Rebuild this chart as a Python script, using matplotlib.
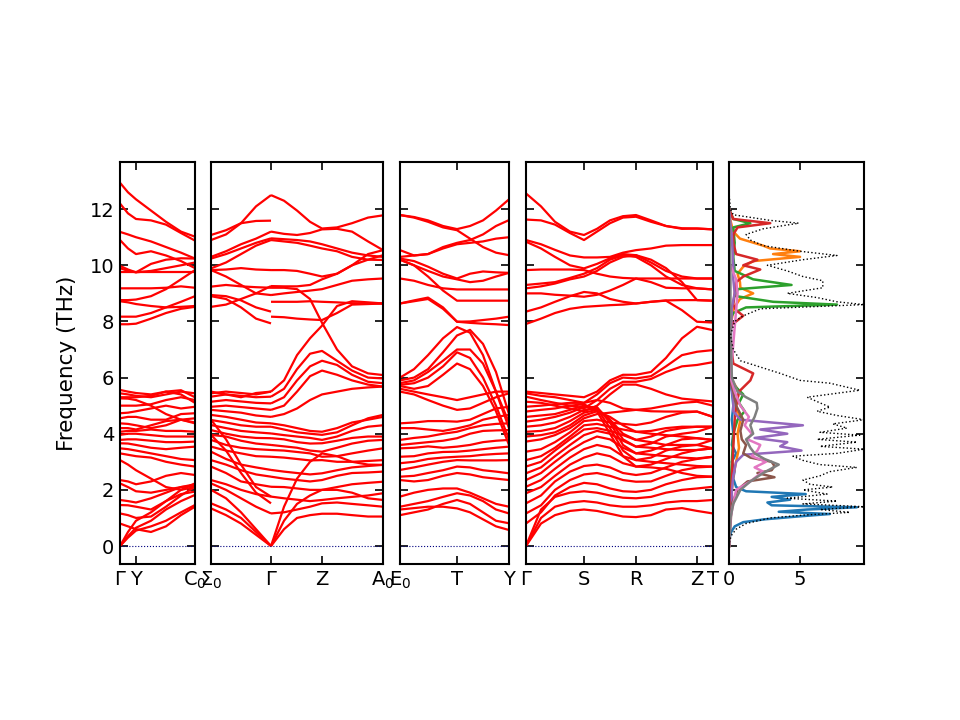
import matplotlib
matplotlib.use("Agg")
import matplotlib.pyplot as plt
import numpy as np

# ---------------- band data ----------------
p1_x = [0, 8, 16, 31, 46, 61, 75]
p1_ticks = [0, 16, 75]
p1_labels = ["Γ", "Y", "C$_0$"]
p1_bands = [
    [12.94, 12.6, 12.35, 11.95, 11.55, 11.2, 11.02],
    [12.2, 11.85, 11.65, 11.6, 11.45, 11.15, 10.88],
    [11.19, 11.1, 11.0, 10.85, 10.65, 10.45, 10.24],
    [10.9, 10.6, 10.4, 10.5, 10.35, 10.15, 9.9],
    [9.98, 9.85, 9.75, 10.05, 10.2, 10.25, 10.24],
    [9.9, 9.8, 9.75, 9.8, 9.9, 10.0, 10.1],
    [9.77, 9.77, 9.77, 9.77, 9.77, 9.77, 9.77],
    [9.18, 9.18, 9.18, 9.18, 9.2, 9.25, 9.2],
    [8.76, 8.76, 8.78, 8.9, 9.15, 9.5, 9.83],
    [8.72, 8.68, 8.62, 8.55, 8.5, 8.52, 8.55],
    [8.17, 8.17, 8.17, 8.3, 8.5, 8.7, 8.9],
    [7.9, 7.9, 7.92, 8.1, 8.3, 8.45, 8.52],
    [0, 0.3, 0.55, 0.7, 0.9, 1.2, 1.46],
    [0, 0.35, 0.65, 0.9, 1.3, 1.6, 1.82],
    [0, 0.5, 0.9, 1.2, 1.6, 1.85, 1.94],
    [0.8, 0.7, 0.6, 0.5, 0.7, 1.1, 1.4],
    [1.16, 1.1, 1.0, 1.05, 1.4, 1.8, 2.11],
    [1.46, 1.45, 1.4, 1.3, 1.6, 2.0, 2.23],
    [1.64, 1.6, 1.55, 1.7, 1.9, 2.1, 2.2],
    [2.23, 2.1, 1.95, 1.9, 2.0, 2.1, 2.15],
    [2.35, 2.3, 2.2, 2.3, 2.5, 2.6, 2.53],
    [3.06, 2.9, 2.7, 2.4, 2.1, 2.0, 2.1],
    [3.3, 3.25, 3.2, 3.15, 3.0, 2.9, 2.83],
    [3.48, 3.45, 3.4, 3.3, 3.2, 3.1, 3.06],
    [3.66, 3.65, 3.6, 3.5, 3.45, 3.5, 3.54],
    [3.78, 3.8, 3.8, 3.75, 3.7, 3.7, 3.72],
    [3.96, 4.0, 4.0, 3.95, 3.9, 3.9, 3.9],
    [4.07, 4.1, 4.1, 4.15, 4.1, 4.1, 4.07],
    [4.2, 4.2, 4.15, 4.3, 4.45, 4.5, 4.37],
    [4.37, 4.35, 4.3, 4.2, 4.3, 4.5, 4.55],
    [4.55, 4.6, 4.6, 4.5, 4.5, 4.7, 4.73],
    [4.73, 4.75, 4.8, 4.9, 5.0, 4.9, 4.96],
    [5.0, 5.0, 5.0, 5.05, 5.2, 5.3, 5.2],
    [5.26, 5.25, 5.2, 5.0, 4.7, 4.5, 4.4],
    [5.44, 5.4, 5.35, 5.3, 5.4, 5.5, 5.44],
    [5.56, 5.5, 5.45, 5.4, 5.5, 5.55, 5.3],
    [5.3, 5.3, 5.3, 5.35, 5.5, 5.4, 5.1],
]

p2a_x = [0, 15, 30, 45, 60]
p2b_x = [60, 73, 86, 99, 111, 126, 141, 157, 172]
p2_ticks = [0, 60, 111, 172]
p2_labels = ["Σ$_0$", "Γ", "Z", "A$_0$"]
p2a_bands = [
    [11.08, 11.25, 11.5, 11.58, 11.59],
    [10.9, 11.1, 11.5, 12.1, 12.5],
    [10.3, 10.5, 10.75, 10.95, 11.2],
    [10.24, 10.4, 10.6, 10.8, 10.96],
    [9.89, 10.1, 10.4, 10.7, 10.9],
    [9.83, 9.85, 9.9, 9.85, 9.83],
    [9.83, 9.6, 9.3, 9.0, 8.94],
    [9.24, 9.3, 9.25, 9.22, 9.2],
    [8.94, 8.9, 8.75, 8.5, 8.35],
    [8.52, 8.6, 8.8, 9.0, 9.26],
    [8.9, 8.8, 8.5, 8.1, 7.93],
    [1.34, 1.1, 0.8, 0.4, 0],
    [1.52, 1.3, 1.0, 0.5, 0],
    [2.0, 1.7, 1.2, 0.6, 0],
    [2.23, 2.0, 1.7, 1.4, 1.16],
    [2.35, 2.2, 2.0, 1.85, 1.76],
    [2.83, 2.6, 2.3, 2.2, 2.11],
    [3.06, 2.9, 2.7, 2.55, 2.47],
    [3.36, 3.1, 2.9, 2.8, 2.71],
    [3.54, 3.4, 3.3, 3.2, 3.18],
    [3.78, 3.6, 3.5, 3.45, 3.42],
    [3.96, 3.9, 3.75, 3.65, 3.6],
    [4.13, 4.0, 3.9, 3.85, 3.84],
    [4.31, 4.2, 4.1, 4.05, 4.01],
    [4.49, 4.4, 4.3, 4.25, 4.25],
    [4.67, 4.6, 4.5, 4.4, 4.37],
    [4.85, 4.8, 4.75, 4.65, 4.6],
    [4.96, 5.0, 4.95, 4.9, 4.85],
    [5.14, 5.2, 5.15, 5.1, 5.08],
    [5.32, 5.4, 5.35, 5.3, 5.32],
    [5.44, 5.5, 5.45, 5.4, 5.5],
    [5.5, 5.4, 5.3, 5.45, 5.5],
    [4.5, 3.8, 2.9, 2.1, 1.76],
    [3.96, 3.4, 2.6, 1.9, 1.52],
]
p2b_bands = [
    [12.5, 12.3, 11.95, 11.55, 11.31, 11.35, 11.5, 11.7, 11.78],
    [11.2, 11.12, 11.08, 11.15, 11.28, 11.3, 11.2, 10.85, 10.54],
    [10.96, 10.93, 10.9, 10.85, 10.75, 10.6, 10.45, 10.35, 10.3],
    [10.9, 10.85, 10.8, 10.7, 10.6, 10.5, 10.3, 10.2, 10.19],
    [9.83, 9.83, 9.8, 9.7, 9.6, 9.7, 10.0, 10.4, 10.54],
    [9.26, 9.25, 9.25, 9.3, 9.5, 9.7, 10.0, 10.2, 10.36],
    [8.94, 9.0, 9.05, 9.1, 9.15, 9.3, 9.45, 9.5, 9.53],
    [8.7, 8.7, 8.7, 8.72, 8.7, 8.68, 8.65, 8.64, 8.64],
    [8.17, 8.15, 8.1, 8.07, 8.05, 8.3, 8.6, 8.62, 8.64],
    [9.2, 9.2, 9.15, 8.8, 7.95, 7.0, 6.4, 6.15, 6.09],
    [5.5, 5.9, 6.8, 7.4, 7.85, 8.55, 8.72, 8.68, 8.64],
    [5.32, 5.6, 6.3, 6.85, 6.95, 6.6, 6.25, 6.0, 5.97],
    [5.08, 5.3, 5.9, 6.4, 6.6, 6.45, 6.1, 5.85, 5.8],
    [4.85, 5.0, 5.5, 6.05, 6.25, 6.1, 5.9, 5.75, 5.68],
    [4.6, 4.7, 4.9, 5.2, 5.4, 5.5, 5.6, 5.65, 5.68],
    [0, 0.6, 1.0, 1.1, 1.15, 1.15, 1.1, 1.05, 1.05],
    [0, 0.9, 1.5, 1.8, 2.0, 2.0, 1.9, 1.7, 1.64],
    [0, 1.4, 2.4, 3.0, 3.3, 3.2, 3.0, 2.9, 2.89],
    [1.16, 1.2, 1.3, 1.4, 1.52, 1.55, 1.5, 1.45, 1.4],
    [1.76, 1.7, 1.65, 1.6, 1.64, 1.7, 1.75, 1.8, 1.88],
    [2.11, 2.1, 2.05, 2.0, 2.0, 2.1, 2.2, 2.25, 2.29],
    [2.47, 2.4, 2.35, 2.3, 2.35, 2.5, 2.6, 2.62, 2.65],
    [2.71, 2.65, 2.6, 2.55, 2.59, 2.7, 2.8, 2.85, 2.89],
    [3.18, 3.15, 3.1, 3.05, 3.06, 3.0, 3.0, 3.03, 3.06],
    [3.42, 3.4, 3.35, 3.3, 3.18, 3.2, 3.3, 3.4, 3.48],
    [3.6, 3.55, 3.5, 3.4, 3.36, 3.5, 3.65, 3.75, 3.78],
    [3.84, 3.8, 3.7, 3.65, 3.66, 3.75, 3.85, 3.9, 3.9],
    [4.01, 3.95, 3.9, 3.85, 3.78, 3.9, 4.1, 4.25, 4.3],
    [4.25, 4.15, 4.05, 4.0, 3.96, 4.05, 4.3, 4.55, 4.67],
    [4.37, 4.3, 4.2, 4.1, 4.07, 4.2, 4.4, 4.5, 4.6],
]

p3_x = [0, 14, 28, 43, 57, 70, 83, 96, 109]
p3_ticks = [0, 57, 109]
p3_labels = ["E$_0$", "T", "Y"]
p3_bands = [
    [11.79, 11.72, 11.6, 11.4, 11.29, 11.4, 11.6, 11.95, 12.35],
    [11.79, 11.7, 11.55, 11.35, 11.25, 10.95, 10.65, 10.45, 10.36],
    [10.54, 10.35, 10.4, 10.65, 10.8, 10.9, 11.1, 11.4, 11.61],
    [10.3, 10.35, 10.4, 10.6, 10.75, 10.8, 10.85, 10.95, 11.0],
    [10.24, 10.15, 9.95, 9.7, 9.53, 9.7, 9.78, 9.75, 9.73],
    [10.2, 10.0, 9.8, 9.6, 9.5, 9.4, 9.45, 9.6, 9.73],
    [9.53, 9.45, 9.3, 9.18, 9.14, 9.14, 9.14, 9.14, 9.14],
    [10.2, 10.0, 9.6, 9.1, 8.74, 8.74, 8.74, 8.74, 8.74],
    [8.64, 8.75, 8.85, 8.5, 7.99, 8.0, 8.05, 8.1, 8.17],
    [8.64, 8.72, 8.8, 8.45, 7.99, 7.95, 7.92, 7.9, 7.87],
    [6.0, 6.3, 6.8, 7.4, 7.8, 7.6, 6.8, 5.5, 4.2],
    [5.9, 6.0, 6.3, 6.9, 7.5, 7.7, 7.2, 6.2, 4.7],
    [5.8, 5.9, 6.2, 6.6, 7.0, 7.0, 6.5, 5.5, 4.4],
    [5.74, 5.8, 6.0, 6.4, 6.9, 6.7, 6.0, 5.0, 3.8],
    [5.7, 5.6, 5.7, 6.1, 6.5, 6.3, 5.7, 4.8, 3.6],
    [5.6, 5.5, 5.4, 5.3, 5.2, 5.3, 5.4, 5.5, 5.5],
    [5.5, 5.4, 5.2, 5.0, 4.85, 4.9, 5.1, 5.3, 5.44],
    [4.37, 4.4, 4.45, 4.45, 4.43, 4.5, 4.7, 4.9, 4.96],
    [4.2, 4.2, 4.15, 4.1, 4.19, 4.3, 4.5, 4.6, 4.67],
    [3.78, 3.85, 3.9, 4.0, 4.07, 4.2, 4.3, 4.35, 4.37],
    [3.6, 3.65, 3.7, 3.75, 3.84, 4.0, 4.1, 4.12, 4.13],
    [3.48, 3.5, 3.55, 3.5, 3.54, 3.6, 3.7, 3.75, 3.78],
    [3.18, 3.2, 3.3, 3.35, 3.36, 3.4, 3.45, 3.5, 3.54],
    [2.95, 3.0, 3.1, 3.15, 3.18, 3.2, 3.25, 3.28, 3.3],
    [2.71, 2.8, 2.9, 3.0, 3.06, 3.05, 3.05, 3.05, 3.06],
    [2.47, 2.5, 2.6, 2.7, 2.83, 2.8, 2.7, 2.65, 2.59],
    [2.35, 2.3, 2.35, 2.5, 2.6, 2.55, 2.45, 2.4, 2.35],
    [1.76, 1.9, 2.0, 2.05, 2.05, 1.9, 1.7, 1.5, 1.4],
    [1.4, 1.5, 1.6, 1.75, 1.88, 1.8, 1.6, 1.3, 1.16],
    [1.1, 1.2, 1.3, 1.5, 1.64, 1.5, 1.2, 0.9, 0.81],
    [1.3, 1.35, 1.4, 1.4, 1.34, 1.2, 0.95, 0.7, 0.57],
]

p4_x = [0, 15, 29, 44, 58, 71, 84, 97, 110, 125, 140, 156, 171, 187]
p4_ticks = [0, 58, 110, 171, 187]
p4_labels = ["Γ", "S", "R", "Z", "T"]
p4_bands = [
    [12.56, 12.1, 11.55, 11.2, 11.08, 11.3, 11.6, 11.75, 11.79, 11.6, 11.4, 11.3, 11.31, 11.28],
    [11.63, 11.6, 11.45, 11.15, 10.9, 11.2, 11.5, 11.7, 11.73, 11.55, 11.4, 11.32, 11.31, 11.28],
    [10.9, 10.75, 10.55, 10.35, 10.28, 10.28, 10.3, 10.45, 10.54, 10.6, 10.7, 10.72, 10.72, 10.72],
    [10.84, 10.6, 10.3, 10.0, 9.89, 10.05, 10.25, 10.4, 10.36, 10.1, 9.8, 9.6, 9.53, 9.53],
    [9.83, 9.85, 9.85, 9.85, 9.83, 9.7, 9.6, 9.55, 9.53, 9.53, 9.53, 9.53, 9.53, 9.53],
    [9.3, 9.35, 9.4, 9.55, 9.7, 9.9, 10.2, 10.35, 10.3, 10.0, 9.6, 9.3, 9.18, 9.14],
    [9.18, 9.25, 9.35, 9.5, 9.6, 9.8, 10.1, 10.3, 10.36, 10.2, 9.9, 9.4, 8.76, 8.74],
    [9.0, 9.0, 8.95, 8.92, 8.88, 8.95, 9.1, 9.3, 9.53, 9.4, 9.2, 9.18, 9.18, 9.14],
    [8.35, 8.5, 8.7, 8.9, 9.05, 9.0, 8.8, 8.7, 8.64, 8.7, 8.75, 8.76, 8.76, 8.74],
    [7.91, 8.1, 8.3, 8.45, 8.52, 8.55, 8.58, 8.6, 8.64, 8.7, 8.74, 8.4, 7.99, 7.96],
    [5.5, 5.45, 5.4, 5.35, 5.3, 5.5, 5.9, 6.1, 6.1, 6.2, 6.7, 7.4, 7.81, 7.69],
    [5.44, 5.35, 5.3, 5.2, 5.1, 5.4, 5.8, 6.0, 5.97, 6.05, 6.4, 6.8, 6.92, 6.98],
    [5.32, 5.2, 5.1, 5.0, 4.9, 5.2, 5.6, 5.85, 5.85, 5.95, 6.2, 6.4, 6.45, 6.55],
    [5.14, 5.1, 5.0, 4.9, 4.8, 5.0, 5.4, 5.75, 5.75, 5.6, 5.4, 5.25, 5.2, 5.15],
    [0, 0.8, 1.1, 1.25, 1.3, 1.25, 1.15, 1.05, 1.03, 1.1, 1.3, 1.35, 1.25, 1.16],
    [0, 1.0, 1.4, 1.55, 1.6, 1.55, 1.45, 1.4, 1.4, 1.45, 1.55, 1.6, 1.6, 1.64],
    [0, 1.3, 1.75, 1.9, 1.95, 1.9, 1.8, 1.72, 1.7, 1.75, 1.9, 2.0, 2.05, 2.11],
    [0.8, 1.2, 1.8, 2.1, 2.25, 2.2, 2.05, 1.95, 1.93, 2.0, 2.2, 2.35, 2.45, 2.47],
    [1.16, 1.45, 2.0, 2.35, 2.55, 2.6, 2.5, 2.35, 2.29, 2.3, 2.5, 2.7, 2.8, 2.83],
    [1.52, 1.8, 2.3, 2.65, 2.85, 2.9, 2.8, 2.6, 2.53, 2.6, 2.8, 3.0, 3.1, 3.18],
    [1.88, 2.1, 2.5, 2.9, 3.15, 3.3, 3.2, 2.95, 2.83, 2.9, 3.1, 3.3, 3.42, 3.48],
    [2.11, 2.35, 2.75, 3.15, 3.45, 3.6, 3.5, 3.2, 3.06, 3.15, 3.4, 3.55, 3.6, 3.78],
    [2.35, 2.6, 3.0, 3.4, 3.7, 3.9, 3.8, 3.5, 3.3, 3.4, 3.6, 3.8, 3.84, 3.78],
    [2.59, 2.8, 3.2, 3.6, 3.95, 4.1, 4.0, 3.75, 3.54, 3.65, 3.9, 4.0, 4.07, 4.25],
    [2.83, 3.0, 3.4, 3.8, 4.15, 4.2, 4.1, 3.95, 3.78, 3.9, 4.1, 4.2, 4.25, 4.25],
    [3.06, 3.2, 3.5, 3.9, 4.3, 4.35, 4.25, 4.15, 4.07, 4.1, 4.2, 4.25, 4.25, 4.25],
    [3.36, 3.45, 3.7, 4.05, 4.45, 4.5, 4.4, 4.35, 4.31, 4.4, 4.6, 4.75, 4.79, 4.6],
    [3.72, 3.8, 3.95, 4.2, 4.55, 4.7, 4.75, 4.8, 4.85, 4.9, 5.0, 5.1, 5.14, 5.0],
    [3.9, 3.95, 4.05, 4.3, 4.65, 4.8, 4.6, 4.3, 4.07, 4.0, 3.95, 3.9, 3.84, 3.78],
    [4.07, 4.1, 4.2, 4.45, 4.75, 4.85, 4.5, 4.0, 3.78, 3.7, 3.6, 3.6, 3.6, 3.48],
    [4.25, 4.3, 4.4, 4.6, 4.85, 4.9, 4.5, 3.8, 3.54, 3.5, 3.45, 3.42, 3.42, 3.48],
    [4.43, 4.5, 4.6, 4.75, 4.95, 4.95, 4.4, 3.6, 3.3, 3.25, 3.2, 3.15, 3.12, 3.18],
    [4.6, 4.65, 4.7, 4.85, 5.0, 4.9, 4.2, 3.4, 3.06, 3.0, 2.95, 2.9, 2.85, 2.83],
    [4.79, 4.85, 4.9, 5.0, 5.05, 4.8, 4.0, 3.2, 2.83, 2.8, 2.75, 2.6, 2.5, 2.47],
    [4.96, 5.0, 5.05, 5.1, 5.1, 5.2, 5.1, 4.9, 4.85, 4.8, 4.79, 4.79, 4.79, 4.6],
]

# ---------------- DOS data ----------------
dos_total_f = [0, 0.2, 0.4, 0.6, 0.8, 1.0, 1.1, 1.2, 1.3, 1.4, 1.5, 1.6, 1.7, 1.85, 2.0,
               2.1, 2.2, 2.35, 2.5, 2.65, 2.8, 2.9, 3.05, 3.2, 3.3, 3.45, 3.55, 3.7, 3.8,
               3.95, 4.05, 4.2, 4.35, 4.5, 4.65, 4.8, 4.95, 5.1, 5.3, 5.55, 5.8, 5.9, 6.15,
               6.6, 7.0, 7.5, 8.0, 8.2, 8.45, 8.6, 8.7, 8.85, 9.0, 9.2, 9.45, 9.6, 9.8,
               10.0, 10.2, 10.35, 10.5, 10.7, 10.9, 11.1, 11.3, 11.5, 11.6, 11.8, 12.0, 12.6]
dos_total_v = [0, 0.05, 0.2, 0.5, 1.2, 2.9, 5.2, 8.5, 6.4, 9.5, 5.2, 7.6, 4.1, 6.9, 5.2,
               7.3, 5.7, 5.2, 6.4, 7.1, 9.0, 6.4, 5.2, 4.5, 7.6, 9.5, 6.4, 9.0, 6.2,
               9.2, 6.4, 8.3, 7.3, 9.5, 7.6, 6.2, 7.1, 6.4, 5.5, 9.2, 7.1, 5.0, 3.6,
               0.8, 0.3, 0.1, 0.4, 1.0, 2.2, 9.5, 7.6, 6.2, 4.1, 6.6, 6.6, 5.2, 4.1,
               2.7, 5.2, 7.6, 5.0, 2.4, 1.5, 1.2, 2.4, 4.9, 2.9, 0.3, 0.1, 0]

pdos_f = [
    [0, 0.3, 0.5, 0.7, 0.85, 0.95, 1.05, 1.14, 1.22, 1.3, 1.38, 1.45, 1.55, 1.65, 1.75,
     1.85, 1.95, 2.1, 2.4, 2.7, 3.0, 3.3, 3.6, 4.0, 4.5, 5.0, 5.5, 6.0],
    [0, 1.5, 2.5, 3.0, 3.5, 4.0, 4.5, 5.0, 5.5, 6.0, 7.5, 8.4, 8.6, 8.8, 9.0, 9.2, 9.4,
     9.7, 9.95, 10.15, 10.3, 10.4, 10.5, 10.6, 10.7, 10.95, 11.2, 11.6, 12.0],
    [0, 2.0, 3.0, 4.0, 4.5, 4.8, 5.1, 5.4, 5.7, 6.0, 7.5, 8.1, 8.3, 8.5, 8.6, 8.7, 8.9,
     9.15, 9.3, 9.5, 9.8, 10.3, 10.8, 11.35, 11.5, 11.65, 12.0],
    [0, 1.0, 2.5, 3.5, 4.5, 5.0, 5.5, 5.9, 6.15, 6.5, 7.5, 7.9, 8.0, 8.2, 8.4, 8.6, 9.0,
     9.4, 9.6, 9.85, 10.0, 10.2, 10.4, 10.8, 11.1, 11.35, 11.5, 11.65, 12.0],
    [0, 1.0, 1.5, 2.0, 2.5, 3.0, 3.25, 3.4, 3.55, 3.7, 3.85, 4.0, 4.15, 4.3, 4.5, 4.8,
     5.2, 5.6, 6.0, 8.5, 9.0, 9.5, 10.0, 11.0, 12.0],
    [0, 1.5, 2.0, 2.3, 2.45, 2.6, 2.7, 2.85, 3.0, 3.15, 3.3, 3.6, 3.8, 4.1, 4.5, 5.0,
     5.5, 6.0],
    [0, 1.0, 1.5, 2.0, 2.3, 2.5, 2.65, 2.8, 3.0, 3.2, 3.4, 3.6, 3.8, 4.0, 4.3, 4.6, 5.0,
     5.5, 6.0, 9.0, 9.5, 10.0],
    [0, 1.0, 1.5, 2.0, 2.3, 2.6, 2.9, 3.1, 3.3, 3.5, 3.8, 4.0, 4.3, 4.6, 4.9, 5.1, 5.3,
     5.5, 6.0, 8.0, 10.0, 12.0],
]
pdos_v = [
    [0, 0.05, 0.15, 0.4, 1.0, 2.5, 4.8, 7.1, 3.5, 5.5, 9.0, 3.0, 2.7, 4.3, 3.0,
     5.4, 1.2, 0.5, 0.3, 0.4, 0.2, 0.5, 0.2, 0.3, 0.2, 0.3, 0.2, 0],
    [0, 0.1, 0.3, 0.5, 0.7, 0.6, 0.8, 0.5, 0.7, 0.1, 0, 0.3, 0.5, 0.77, 1.7, 0.8, 0.77,
     0.6, 1.0, 1.7, 5.0, 3.1, 5.0, 2.9, 2.4, 0.77, 0.3, 0.1, 0],
    [0, 0.1, 0.2, 0.3, 0.6, 1.1, 0.7, 1.0, 0.4, 0.1, 0, 0.1, 0.3, 1.2, 7.6, 3.1, 0.5,
     0.6, 4.4, 1.7, 0.4, 0.3, 0.4, 0.3, 1.5, 0.3, 0],
    [0, 0.05, 0.2, 0.3, 0.4, 0.5, 0.7, 1.5, 1.7, 0.3, 0.05, 0.2, 0.5, 1.0, 0.5, 0.3, 0.4,
     0.5, 1.0, 2.2, 1.0, 2.0, 0.5, 0.3, 0.3, 0.6, 2.9, 0.3, 0],
    [0, 0.1, 0.2, 0.2, 0.3, 0.5, 1.0, 5.1, 3.6, 4.1, 1.8, 4.1, 2.2, 5.2, 0.8, 0.3,
     0.3, 0.2, 0.05, 0.2, 0.4, 0.3, 0.3, 0.2, 0],
    [0, 0.2, 0.6, 1.3, 3.2, 2.0, 3.0, 3.2, 3.0, 1.5, 1.0, 1.2, 0.9, 0.8, 1.0, 0.5,
     0.3, 0],
    [0, 0.1, 0.3, 0.5, 1.5, 2.0, 2.4, 1.8, 2.6, 1.6, 2.0, 2.2, 1.3, 1.6, 1.1, 1.4, 0.8,
     0.4, 0.1, 0.6, 0.5, 0.1],
    [0, 0.1, 0.3, 0.8, 1.5, 2.4, 3.5, 2.5, 1.8, 1.5, 1.2, 1.7, 1.5, 1.8, 2.0, 1.95, 1.2,
     0.6, 0.2, 0.1, 0.1, 0],
]
pdos_colors = ["C0", "C1", "C2", "C3", "C4", "C5", "C6", "C7"]
dos_xticks = [0, 5]

# ---------------- drawing ----------------
YMIN, YMAX = -0.64, 13.68
FS = 14
fig = plt.figure(figsize=(9.6, 7.2), dpi=100)
bot, hgt = 0.2167, 0.5583
boxes = [(0.125, 0.0781), (0.2198, 0.1792), (0.4167, 0.1135), (0.5479, 0.1948), (0.7594, 0.1406)]
axes = [fig.add_axes([l, bot, w, hgt]) for l, w in boxes]


def style(ax):
    for s in ax.spines.values():
        s.set_linewidth(1.5)
    ax.tick_params(direction="in", length=6, width=1.2, top=True, right=True,
                   labelsize=FS, pad=4)
    ax.set_ylim(YMIN, YMAX)
    ax.set_yticks([0, 2, 4, 6, 8, 10, 12])


def band_panel(ax, segs, ticks, labels):
    for xs, bands in segs:
        for b in bands:
            ax.plot(xs, b, color="red", lw=1.6, solid_capstyle="butt")
    ax.set_xlim(ticks[0], ticks[-1])
    ax.axhline(0, color="navy", lw=0.8, ls=":")
    style(ax)
    ax.set_xticks(ticks)
    ax.set_xticklabels(labels)


band_panel(axes[0], [(p1_x, p1_bands)], p1_ticks, p1_labels)
band_panel(axes[1], [(p2a_x, p2a_bands), (p2b_x, p2b_bands)], p2_ticks, p2_labels)
band_panel(axes[2], [(p3_x, p3_bands)], p3_ticks, p3_labels)
band_panel(axes[3], [(p4_x, p4_bands)], p4_ticks, p4_labels)
axes[0].set_ylabel("Frequency (THz)", fontsize=15.5, labelpad=9)
for ax in axes[1:]:
    ax.set_yticklabels([])

ad = axes[4]
for f, v, c in zip(pdos_f, pdos_v, pdos_colors):
    ad.plot(v, f, color=c, lw=1.8)
ad.plot(dos_total_v, dos_total_f, color="black", lw=1.0, ls=":")
style(ad)
ad.set_xlim(0, 9.5)
ad.set_xticks(dos_xticks)
ad.set_yticklabels([])

fig.savefig("out.png", dpi=100)
